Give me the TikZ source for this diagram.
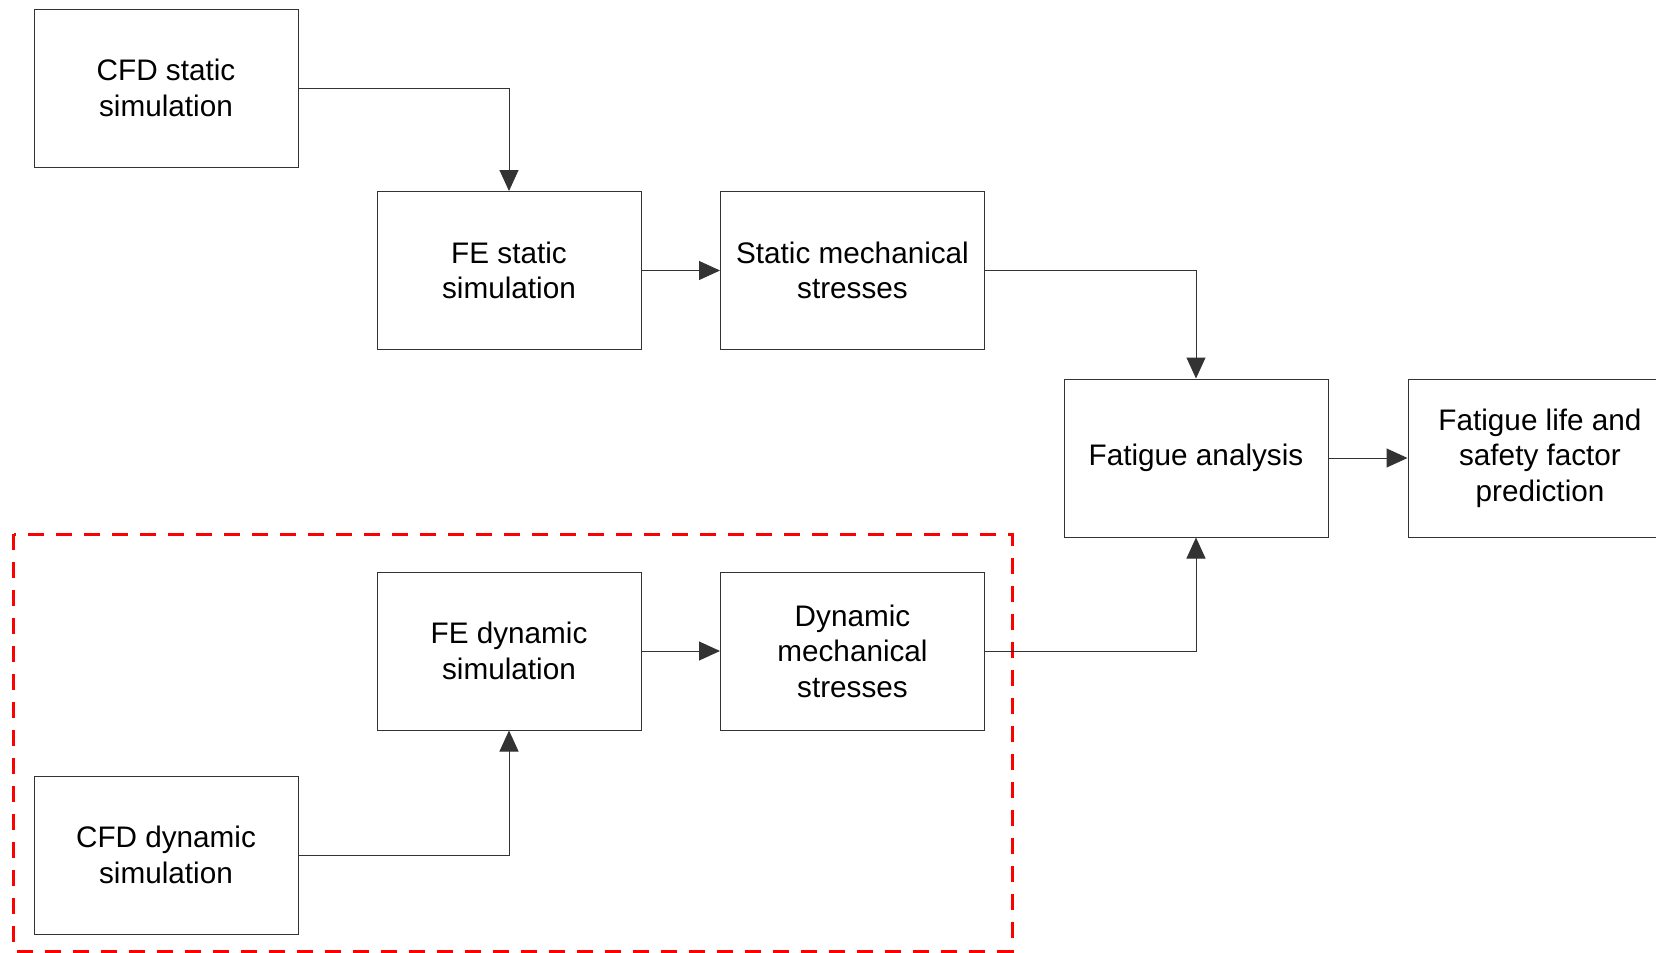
\documentclass[tikz,border=0pt]{standalone}
\usepackage{fontspec}
\setmainfont{Liberation Sans}
\usetikzlibrary{arrows.meta}
\begin{document}
\begin{tikzpicture}[x=0.5pt,y=-0.5pt,
  blk/.style={draw=black!80, line width=0.5pt, minimum width=132pt, minimum height=79pt, inner sep=0pt, align=center,
    font=\fontsize{14.85pt}{17.7pt}\selectfont, fill=white},
  conn/.style={draw=black!80, line width=0.5pt, -{Triangle[length=10.5pt,width=9.5pt]}},
  grp/.style={draw={rgb,255:red,255;green,0;blue,0}, line width=1.5pt, dash pattern=on 8pt off 6pt}]
\useasboundingbox (0,0) rectangle (1656,953);
\fill[white] (0,0) rectangle (1656,953);
\draw[grp] (13.7,534) rectangle (1012,951);
\node[blk] (cfds) at (166,88) {CFD static\\simulation};
\node[blk] (fes) at (509,270.5) {FE static\\simulation};
\node[blk] (smech) at (852.5,270.5) {Static mechanical\\stresses};
\node[blk] (fat) at (1196,458) {Fatigue analysis};
\node[blk] (life) at (1540,458) {Fatigue life and\\safety factor\\prediction};
\node[blk] (fed) at (509,651) {FE dynamic\\simulation};
\node[blk] (dmech) at (852.5,651) {Dynamic\\mechanical\\stresses};
\node[blk] (cfdd) at (166,855) {CFD dynamic\\simulation};
\draw[conn] (cfds.east) -| (fes.north);
\draw[conn] (fes.east) -- (smech.west);
\draw[conn] (smech.east) -| (fat.north);
\draw[conn] (fat.east) -- (life.west);
\draw[conn] (fed.east) -- (dmech.west);
\draw[conn] (dmech.east) -| (fat.south);
\draw[conn] (cfdd.east) -| (fed.south);
\end{tikzpicture}
\end{document}
